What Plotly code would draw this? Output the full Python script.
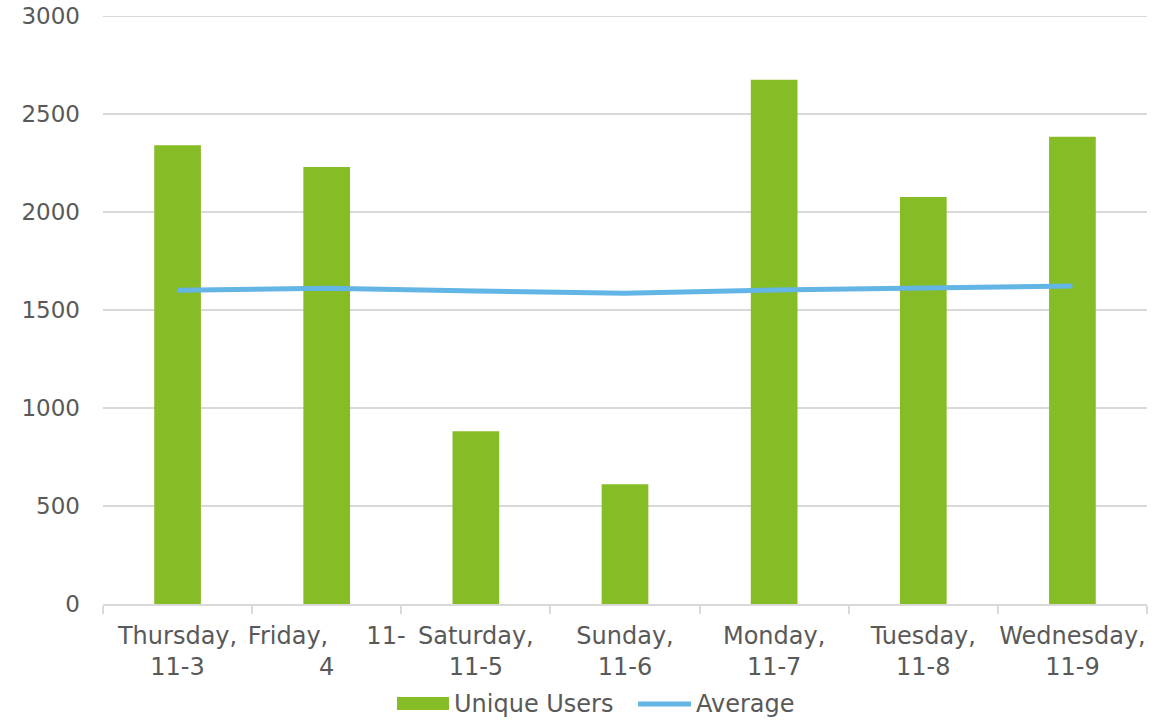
import plotly.graph_objects as go

categories = ["Thursday,<br>11-3",
              "Friday,\u00a0\u00a0\u00a0\u00a0 11-<br>4",
              "Saturday,<br>11-5",
              "Sunday,<br>11-6",
              "Monday,<br>11-7",
              "Tuesday,<br>11-8",
              "Wednesday,<br>11-9"]
unique_users = [2341, 2229, 882, 611, 2675, 2077, 2384]
average = [1601, 1611, 1597, 1585, 1602, 1611, 1622]
series_names = ["Unique Users", "Average"]
y_max = 3000

font_family = "DejaVu Sans, Verdana, sans-serif"
text_color = "#595959"
grid_color = "#D9D9D9"
green = "#86BC25"
blue = "#62B5E5"

fig = go.Figure()
fig.add_trace(go.Bar(x=categories, y=unique_users, name=series_names[0],
                     marker=dict(color=green, line=dict(width=0)), showlegend=False))
fig.add_trace(go.Scatter(x=categories, y=average, name=series_names[1], mode="lines",
                         line=dict(color=blue, width=5), showlegend=False))

# top gridline (Plotly omits the gridline lying on the plot edge)
fig.add_shape(type="line", xref="paper", yref="y", x0=0, x1=1, y0=y_max, y1=y_max,
              line=dict(color=grid_color, width=2), layer="below")

# custom legend (Excel style, wide swatches)
fig.add_shape(type="rect", xref="paper", yref="paper",
              x0=0.2816, x1=0.3314, y0=-0.1803, y1=-0.1582,
              fillcolor=green, line=dict(width=0))
fig.add_annotation(xref="paper", yref="paper", x=0.3343, y=-0.170, xanchor="left",
                   yanchor="middle", text=series_names[0], showarrow=False,
                   font=dict(size=24, color=text_color))
fig.add_shape(type="line", xref="paper", yref="paper",
              x0=0.5125, x1=0.5632, y0=-0.170, y1=-0.170,
              line=dict(color=blue, width=5))
fig.add_annotation(xref="paper", yref="paper", x=0.5660, y=-0.170, xanchor="left",
                   yanchor="middle", text=series_names[1], showarrow=False,
                   font=dict(size=24, color=text_color))

fig.update_layout(
    width=1173, height=721,
    margin=dict(l=103, r=26, t=16, b=117, autoexpand=False),
    paper_bgcolor="white", plot_bgcolor="white",
    font=dict(family=font_family, size=23, color=text_color),
    bargap=0.687,
    showlegend=False,
)
fig.update_xaxes(type="category", showgrid=False, showline=True, linecolor=grid_color,
                 linewidth=1.5, ticks="outside", tickson="boundaries", ticklen=8,
                 tickcolor=grid_color, tickwidth=1.5, tickangle=0, automargin=False,
                 ticklabelstandoff=9,
                 tickfont=dict(size=24, color=text_color))
fig.update_yaxes(range=[0, y_max], dtick=500, showgrid=True, gridcolor=grid_color,
                 gridwidth=1.5, zeroline=False, showline=False, ticks="", automargin=False,
                 ticklabelstandoff=22, ticklabeloverflow="allow",
                 tickfont=dict(size=23, color=text_color))

fig.write_html("out.html", config={"displayModeBar": False},
               post_script="document.body.style.margin='0';document.body.style.overflow='hidden';")
